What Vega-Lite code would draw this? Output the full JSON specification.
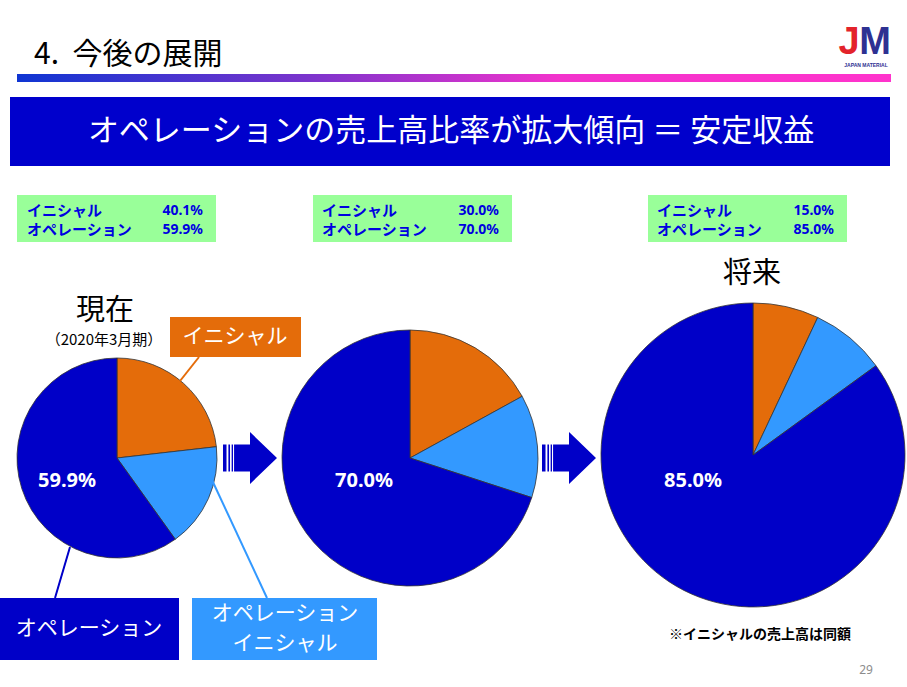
{
  "$schema": "https://vega.github.io/schema/vega-lite/v6.json",
  "width": 907,
  "height": 687,
  "autosize": {"type": "none"},
  "padding": 0,
  "background": "white",
  "config": {"view": {"stroke": null}, "axis": {"disable": true}, "text": {"font": "Noto Sans CJK JP"}},
  "data": {"values": [{}]},
  "datasets": {
    "pies": [
      {"stage": "現在", "segment": "イニシャル", "no": 1, "share": 0.232},
      {"stage": "現在", "segment": "オペレーション（イニシャル）", "no": 2, "share": 0.169},
      {"stage": "現在", "segment": "オペレーション", "no": 3, "share": 0.599},
      {"stage": "中間", "segment": "イニシャル", "no": 1, "share": 0.17},
      {"stage": "中間", "segment": "オペレーション（イニシャル）", "no": 2, "share": 0.13},
      {"stage": "中間", "segment": "オペレーション", "no": 3, "share": 0.70},
      {"stage": "将来", "segment": "イニシャル", "no": 1, "share": 0.07},
      {"stage": "将来", "segment": "オペレーション（イニシャル）", "no": 2, "share": 0.08},
      {"stage": "将来", "segment": "オペレーション", "no": 3, "share": 0.85}
    ],
    "summary": [
      {"stage": "現在", "label": "イニシャル", "value": 0.401},
      {"stage": "現在", "label": "オペレーション", "value": 0.599},
      {"stage": "中間", "label": "イニシャル", "value": 0.300},
      {"stage": "中間", "label": "オペレーション", "value": 0.700},
      {"stage": "将来", "label": "イニシャル", "value": 0.150},
      {"stage": "将来", "label": "オペレーション", "value": 0.850}
    ]
  },
  "layer": [
    {
      "mark": {"type": "text", "text": "4.\u00a0\u00a0今後の展開", "align": "left", "baseline": "middle", "fontSize": 30, "color": "#000000"},
      "encoding": {
        "x": {"datum": 34, "type": "quantitative", "scale": {"domain": [0, 907], "nice": false, "zero": false}},
        "y": {"datum": 55, "type": "quantitative", "scale": {"domain": [0, 687], "nice": false, "zero": false, "reverse": true}}
      }
    },
    {
      "mark": {"type": "rect", "color": {"gradient": "linear", "x1": 0, "x2": 1, "y1": 0, "y2": 0, "stops": [{"offset": 0, "color": "#0f35d2"}, {"offset": 0.33, "color": "#7a34cc"}, {"offset": 0.62, "color": "#f233cc"}, {"offset": 1, "color": "#ff33cc"}]}},
      "encoding": {"x": {"datum": 17}, "x2": {"datum": 891}, "y": {"datum": 74}, "y2": {"datum": 82}}
    },
    {
      "mark": {"type": "text", "text": "J", "align": "center", "baseline": "alphabetic", "fontSize": 38, "fontWeight": "bold", "font": "Liberation Sans", "color": "#e3232b"},
      "encoding": {"x": {"datum": 849}, "y": {"datum": 54}}
    },
    {
      "mark": {"type": "text", "text": "M", "align": "center", "baseline": "alphabetic", "fontSize": 38, "fontWeight": "bold", "font": "Liberation Sans", "color": "#2e3192"},
      "encoding": {"x": {"datum": 875}, "y": {"datum": 54}}
    },
    {
      "mark": {"type": "text", "text": "JAPAN MATERIAL", "align": "center", "baseline": "middle", "fontSize": 5, "fontWeight": "bold", "font": "Liberation Sans", "color": "#2e3192"},
      "encoding": {"x": {"datum": 866}, "y": {"datum": 65}}
    },
    {
      "mark": {"type": "rect", "color": "#0000cc"},
      "encoding": {"x": {"datum": 10}, "x2": {"datum": 890}, "y": {"datum": 97}, "y2": {"datum": 166}}
    },
    {
      "mark": {"type": "text", "text": "オペレーションの売上高比率が拡大傾向 ＝ 安定収益", "align": "center", "baseline": "middle", "fontSize": 31, "color": "#ffffff"},
      "encoding": {"x": {"datum": 451}, "y": {"datum": 132}}
    },
    {
      "mark": {"type": "rect", "color": "#99ff99"},
      "encoding": {"x": {"datum": 17}, "x2": {"datum": 216}, "y": {"datum": 195}, "y2": {"datum": 242}}
    },
    {
      "mark": {"type": "rect", "color": "#99ff99"},
      "encoding": {"x": {"datum": 313}, "x2": {"datum": 512}, "y": {"datum": 195}, "y2": {"datum": 242}}
    },
    {
      "mark": {"type": "rect", "color": "#99ff99"},
      "encoding": {"x": {"datum": 648}, "x2": {"datum": 847}, "y": {"datum": 195}, "y2": {"datum": 242}}
    },
    {
      "data": {"name": "summary"},
      "transform": [{"filter": "datum.stage === '現在' && datum.label === 'イニシャル'"}],
      "mark": {"type": "text", "align": "left", "baseline": "middle", "fontSize": 15, "fontWeight": "bold", "color": "#0000e0"},
      "encoding": {"x": {"datum": 27}, "y": {"datum": 211}, "text": {"field": "label"}}
    },
    {
      "data": {"name": "summary"},
      "transform": [{"filter": "datum.stage === '現在' && datum.label === 'オペレーション'"}],
      "mark": {"type": "text", "align": "left", "baseline": "middle", "fontSize": 15, "fontWeight": "bold", "color": "#0000e0"},
      "encoding": {"x": {"datum": 27}, "y": {"datum": 230}, "text": {"field": "label"}}
    },
    {
      "data": {"name": "summary"},
      "transform": [{"filter": "datum.stage === '現在' && datum.label === 'イニシャル'"}],
      "mark": {"type": "text", "align": "right", "baseline": "middle", "fontSize": 14, "fontWeight": "bold", "font": "Noto Sans", "color": "#0000e0"},
      "encoding": {"x": {"datum": 203}, "y": {"datum": 211}, "text": {"field": "value", "type": "quantitative", "format": ".1%"}}
    },
    {
      "data": {"name": "summary"},
      "transform": [{"filter": "datum.stage === '現在' && datum.label === 'オペレーション'"}],
      "mark": {"type": "text", "align": "right", "baseline": "middle", "fontSize": 14, "fontWeight": "bold", "font": "Noto Sans", "color": "#0000e0"},
      "encoding": {"x": {"datum": 203}, "y": {"datum": 230}, "text": {"field": "value", "type": "quantitative", "format": ".1%"}}
    },
    {
      "data": {"name": "summary"},
      "transform": [{"filter": "datum.stage === '中間' && datum.label === 'イニシャル'"}],
      "mark": {"type": "text", "align": "left", "baseline": "middle", "fontSize": 15, "fontWeight": "bold", "color": "#0000e0"},
      "encoding": {"x": {"datum": 322}, "y": {"datum": 211}, "text": {"field": "label"}}
    },
    {
      "data": {"name": "summary"},
      "transform": [{"filter": "datum.stage === '中間' && datum.label === 'オペレーション'"}],
      "mark": {"type": "text", "align": "left", "baseline": "middle", "fontSize": 15, "fontWeight": "bold", "color": "#0000e0"},
      "encoding": {"x": {"datum": 322}, "y": {"datum": 230}, "text": {"field": "label"}}
    },
    {
      "data": {"name": "summary"},
      "transform": [{"filter": "datum.stage === '中間' && datum.label === 'イニシャル'"}],
      "mark": {"type": "text", "align": "right", "baseline": "middle", "fontSize": 14, "fontWeight": "bold", "font": "Noto Sans", "color": "#0000e0"},
      "encoding": {"x": {"datum": 499}, "y": {"datum": 211}, "text": {"field": "value", "type": "quantitative", "format": ".1%"}}
    },
    {
      "data": {"name": "summary"},
      "transform": [{"filter": "datum.stage === '中間' && datum.label === 'オペレーション'"}],
      "mark": {"type": "text", "align": "right", "baseline": "middle", "fontSize": 14, "fontWeight": "bold", "font": "Noto Sans", "color": "#0000e0"},
      "encoding": {"x": {"datum": 499}, "y": {"datum": 230}, "text": {"field": "value", "type": "quantitative", "format": ".1%"}}
    },
    {
      "data": {"name": "summary"},
      "transform": [{"filter": "datum.stage === '将来' && datum.label === 'イニシャル'"}],
      "mark": {"type": "text", "align": "left", "baseline": "middle", "fontSize": 15, "fontWeight": "bold", "color": "#0000e0"},
      "encoding": {"x": {"datum": 657}, "y": {"datum": 211}, "text": {"field": "label"}}
    },
    {
      "data": {"name": "summary"},
      "transform": [{"filter": "datum.stage === '将来' && datum.label === 'オペレーション'"}],
      "mark": {"type": "text", "align": "left", "baseline": "middle", "fontSize": 15, "fontWeight": "bold", "color": "#0000e0"},
      "encoding": {"x": {"datum": 657}, "y": {"datum": 230}, "text": {"field": "label"}}
    },
    {
      "data": {"name": "summary"},
      "transform": [{"filter": "datum.stage === '将来' && datum.label === 'イニシャル'"}],
      "mark": {"type": "text", "align": "right", "baseline": "middle", "fontSize": 14, "fontWeight": "bold", "font": "Noto Sans", "color": "#0000e0"},
      "encoding": {"x": {"datum": 834}, "y": {"datum": 211}, "text": {"field": "value", "type": "quantitative", "format": ".1%"}}
    },
    {
      "data": {"name": "summary"},
      "transform": [{"filter": "datum.stage === '将来' && datum.label === 'オペレーション'"}],
      "mark": {"type": "text", "align": "right", "baseline": "middle", "fontSize": 14, "fontWeight": "bold", "font": "Noto Sans", "color": "#0000e0"},
      "encoding": {"x": {"datum": 834}, "y": {"datum": 230}, "text": {"field": "value", "type": "quantitative", "format": ".1%"}}
    },
    {
      "mark": {"type": "text", "text": "現在", "align": "center", "baseline": "middle", "fontSize": 29, "color": "#000000"},
      "encoding": {"x": {"datum": 105}, "y": {"datum": 311}}
    },
    {
      "mark": {"type": "text", "text": "（2020年3月期）", "align": "center", "baseline": "middle", "fontSize": 15, "color": "#000000"},
      "encoding": {"x": {"datum": 104}, "y": {"datum": 340}}
    },
    {
      "mark": {"type": "text", "text": "将来", "align": "center", "baseline": "middle", "fontSize": 29, "color": "#000000"},
      "encoding": {"x": {"datum": 752}, "y": {"datum": 274}}
    },
    {
      "data": {"name": "pies"},
      "transform": [{"filter": "datum.stage === '現在'"}],
      "mark": {"type": "arc", "outerRadius": 100, "stroke": "#333333", "strokeWidth": 0.8},
      "encoding": {
        "x": {"datum": 117}, "y": {"datum": 458},
        "theta": {"field": "share", "type": "quantitative", "stack": true},
        "order": {"field": "no", "type": "quantitative"},
        "color": {"field": "segment", "type": "nominal", "scale": {"domain": ["イニシャル", "オペレーション（イニシャル）", "オペレーション"], "range": ["#e46c0a", "#3399ff", "#0000c8"]}, "legend": null}
      }
    },
    {
      "data": {"name": "pies"},
      "transform": [{"filter": "datum.stage === '中間'"}],
      "mark": {"type": "arc", "outerRadius": 128, "stroke": "#333333", "strokeWidth": 0.8},
      "encoding": {
        "x": {"datum": 410}, "y": {"datum": 458},
        "theta": {"field": "share", "type": "quantitative", "stack": true},
        "order": {"field": "no", "type": "quantitative"},
        "color": {"field": "segment", "type": "nominal", "legend": null}
      }
    },
    {
      "data": {"name": "pies"},
      "transform": [{"filter": "datum.stage === '将来'"}],
      "mark": {"type": "arc", "outerRadius": 152, "stroke": "#333333", "strokeWidth": 0.8},
      "encoding": {
        "x": {"datum": 753}, "y": {"datum": 455},
        "theta": {"field": "share", "type": "quantitative", "stack": true},
        "order": {"field": "no", "type": "quantitative"},
        "color": {"field": "segment", "type": "nominal", "legend": null}
      }
    },
    {
      "data": {"name": "pies"},
      "transform": [{"filter": "datum.stage === '現在' && datum.segment === 'オペレーション'"}],
      "mark": {"type": "text", "align": "center", "baseline": "middle", "fontSize": 20, "fontWeight": "bold", "font": "Noto Sans", "color": "#ffffff"},
      "encoding": {"x": {"datum": 67}, "y": {"datum": 481}, "text": {"field": "share", "type": "quantitative", "format": ".1%"}}
    },
    {
      "data": {"name": "pies"},
      "transform": [{"filter": "datum.stage === '中間' && datum.segment === 'オペレーション'"}],
      "mark": {"type": "text", "align": "center", "baseline": "middle", "fontSize": 20, "fontWeight": "bold", "font": "Noto Sans", "color": "#ffffff"},
      "encoding": {"x": {"datum": 364}, "y": {"datum": 481}, "text": {"field": "share", "type": "quantitative", "format": ".1%"}}
    },
    {
      "data": {"name": "pies"},
      "transform": [{"filter": "datum.stage === '将来' && datum.segment === 'オペレーション'"}],
      "mark": {"type": "text", "align": "center", "baseline": "middle", "fontSize": 20, "fontWeight": "bold", "font": "Noto Sans", "color": "#ffffff"},
      "encoding": {"x": {"datum": 693}, "y": {"datum": 481}, "text": {"field": "share", "type": "quantitative", "format": ".1%"}}
    },
    {
      "mark": {"type": "point", "filled": true, "opacity": 1, "color": "#0000c8", "strokeWidth": 0, "size": 2916, "shape": "M-1,-0.5L-0.87,-0.5L-0.87,0.5L-1,0.5Z M-0.8,-0.5L-0.74,-0.5L-0.74,0.5L-0.8,0.5Z M-0.68,-0.5L-0.63,-0.5L-0.63,0.5L-0.68,0.5Z M-0.59,-0.5L0,-0.5L0,-0.96L1,0L0,0.96L0,0.5L-0.59,0.5Z"},
      "encoding": {"x": {"datum": 250}, "y": {"datum": 458}}
    },
    {
      "mark": {"type": "point", "filled": true, "opacity": 1, "color": "#0000c8", "strokeWidth": 0, "size": 2916, "shape": "M-1,-0.5L-0.87,-0.5L-0.87,0.5L-1,0.5Z M-0.8,-0.5L-0.74,-0.5L-0.74,0.5L-0.8,0.5Z M-0.68,-0.5L-0.63,-0.5L-0.63,0.5L-0.68,0.5Z M-0.59,-0.5L0,-0.5L0,-0.96L1,0L0,0.96L0,0.5L-0.59,0.5Z"},
      "encoding": {"x": {"datum": 569}, "y": {"datum": 458}}
    },
    {
      "mark": {"type": "rule", "color": "#e46c0a", "strokeWidth": 2},
      "encoding": {"x": {"datum": 199}, "y": {"datum": 357}, "x2": {"datum": 180}, "y2": {"datum": 381}}
    },
    {
      "mark": {"type": "rect", "color": "#e46c0a"},
      "encoding": {"x": {"datum": 170}, "x2": {"datum": 301}, "y": {"datum": 317}, "y2": {"datum": 357}}
    },
    {
      "mark": {"type": "text", "text": "イニシャル", "align": "center", "baseline": "middle", "fontSize": 21, "color": "#ffffff"},
      "encoding": {"x": {"datum": 235}, "y": {"datum": 337}}
    },
    {
      "mark": {"type": "rule", "color": "#0000c8", "strokeWidth": 2},
      "encoding": {"x": {"datum": 70}, "y": {"datum": 547}, "x2": {"datum": 55}, "y2": {"datum": 598}}
    },
    {
      "mark": {"type": "rect", "color": "#0000c8"},
      "encoding": {"x": {"datum": 0}, "x2": {"datum": 179}, "y": {"datum": 598}, "y2": {"datum": 660}}
    },
    {
      "mark": {"type": "text", "text": "オペレーション", "align": "center", "baseline": "middle", "fontSize": 21, "color": "#ffffff"},
      "encoding": {"x": {"datum": 89}, "y": {"datum": 629}}
    },
    {
      "mark": {"type": "rule", "color": "#3399ff", "strokeWidth": 2},
      "encoding": {"x": {"datum": 212}, "y": {"datum": 480}, "x2": {"datum": 267}, "y2": {"datum": 598}}
    },
    {
      "mark": {"type": "rect", "color": "#3399ff"},
      "encoding": {"x": {"datum": 192}, "x2": {"datum": 377}, "y": {"datum": 598}, "y2": {"datum": 660}}
    },
    {
      "mark": {"type": "text", "text": "オペレーション", "align": "center", "baseline": "middle", "fontSize": 21, "color": "#ffffff"},
      "encoding": {"x": {"datum": 285}, "y": {"datum": 614}}
    },
    {
      "mark": {"type": "text", "text": "イニシャル", "align": "center", "baseline": "middle", "fontSize": 21, "color": "#ffffff"},
      "encoding": {"x": {"datum": 285}, "y": {"datum": 644}}
    },
    {
      "mark": {"type": "text", "text": "※イニシャルの売上高は同額", "align": "center", "baseline": "middle", "fontSize": 14, "fontWeight": "bold", "color": "#000000"},
      "encoding": {"x": {"datum": 760}, "y": {"datum": 635}}
    },
    {
      "mark": {"type": "text", "text": "29", "align": "center", "baseline": "middle", "fontSize": 12, "font": "Noto Sans", "color": "#8c8c8c"},
      "encoding": {"x": {"datum": 866}, "y": {"datum": 670}}
    }
  ]
}
